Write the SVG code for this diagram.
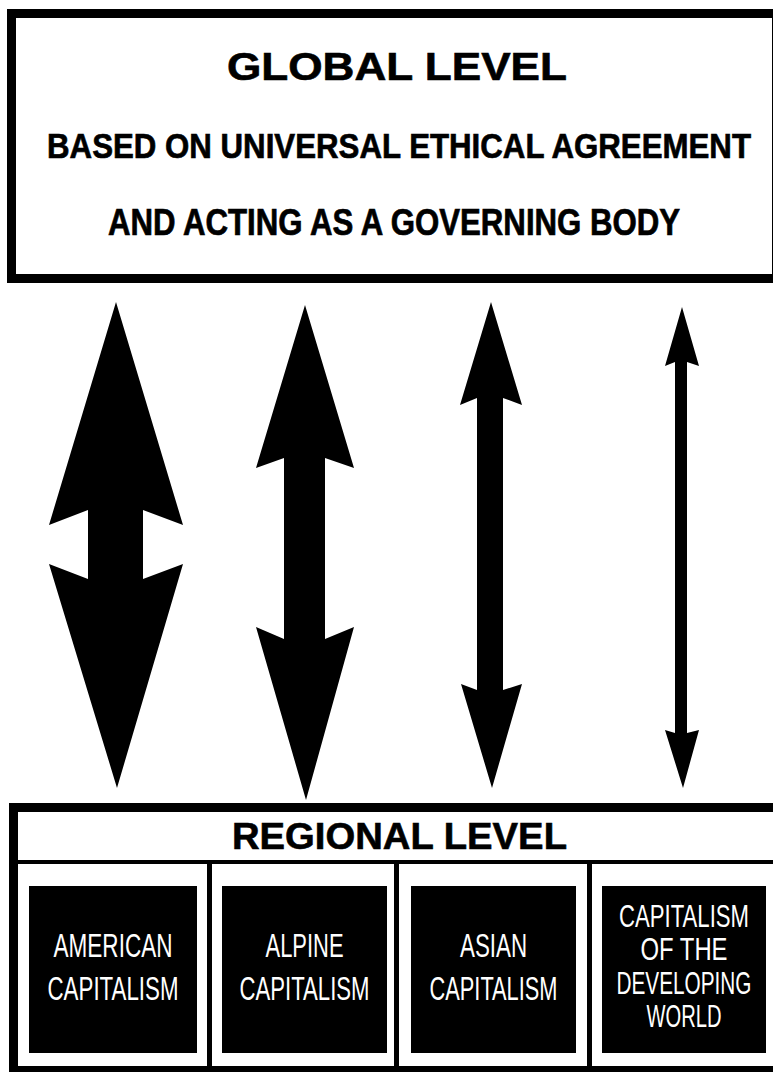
<svg xmlns="http://www.w3.org/2000/svg" width="773" height="1072" viewBox="0 0 773 1072">
<style>
.frame{fill:#fff;stroke:#000;stroke-width:9}
.bar{fill:#000}
.blk{fill:#000}
.hd{font-family:"Liberation Sans",Arial,sans-serif;font-weight:bold;fill:#000;stroke:#000;stroke-width:0.6;text-anchor:middle}
.wt{font-family:"Liberation Sans",Arial,sans-serif;font-size:22px;fill:#fff;text-anchor:middle}
.wt4{font-family:"Liberation Sans",Arial,sans-serif;font-size:21px;fill:#fff;text-anchor:middle}
.arrow{fill:#000}
</style>
<rect x="0" y="0" width="773" height="1072" fill="#fff"/>
<g id="global">
<rect class="frame" x="11.5" y="13.5" width="765" height="265"/>
<text class="hd" x="397" y="80" font-size="38" textLength="340" lengthAdjust="spacingAndGlyphs">GLOBAL LEVEL</text>
<text class="hd" transform="translate(399,158) scale(1,1.13)" x="0" y="0" font-size="31" textLength="704" lengthAdjust="spacingAndGlyphs">BASED ON UNIVERSAL ETHICAL AGREEMENT</text>
<text class="hd" transform="translate(394,235) scale(1,1.18)" x="0" y="0" font-size="31" textLength="572" lengthAdjust="spacingAndGlyphs">AND ACTING AS A GOVERNING BODY</text>
</g>
<g id="regional">
<rect class="frame" x="13.5" y="807.5" width="800" height="263"/>
<rect class="bar" x="18" y="860" width="760" height="4"/>
<text class="hd" x="399.5" y="849" font-size="37" textLength="335" lengthAdjust="spacingAndGlyphs">REGIONAL LEVEL</text>
<rect class="bar" x="207" y="864" width="5" height="204"/>
<rect class="bar" x="394" y="864" width="5" height="204"/>
<rect class="bar" x="587" y="864" width="5" height="204"/>
</g>
<g id="american">
<rect class="blk" x="29" y="886" width="168" height="167"/>
<text class="wt" transform="translate(113,957) scale(1,1.55)" textLength="119" lengthAdjust="spacingAndGlyphs">AMERICAN</text>
<text class="wt" transform="translate(113,1000) scale(1,1.55)" textLength="131" lengthAdjust="spacingAndGlyphs">CAPITALISM</text>
</g>
<g id="alpine">
<rect class="blk" x="222" y="886" width="165" height="167"/>
<text class="wt" transform="translate(304.5,957) scale(1,1.55)" textLength="78" lengthAdjust="spacingAndGlyphs">ALPINE</text>
<text class="wt" transform="translate(304.5,1000) scale(1,1.55)" textLength="130" lengthAdjust="spacingAndGlyphs">CAPITALISM</text>
</g>
<g id="asian">
<rect class="blk" x="411" y="886" width="165" height="167"/>
<text class="wt" transform="translate(493.5,957) scale(1,1.55)" textLength="67" lengthAdjust="spacingAndGlyphs">ASIAN</text>
<text class="wt" transform="translate(493.5,1000) scale(1,1.55)" textLength="128" lengthAdjust="spacingAndGlyphs">CAPITALISM</text>
</g>
<g id="developing">
<rect class="blk" x="602" y="886" width="164" height="167"/>
<text class="wt4" transform="translate(684,927) scale(1,1.5)" textLength="130" lengthAdjust="spacingAndGlyphs">CAPITALISM</text>
<text class="wt4" transform="translate(684,960) scale(1,1.5)" textLength="87" lengthAdjust="spacingAndGlyphs">OF THE</text>
<text class="wt4" transform="translate(684,994) scale(1,1.5)" textLength="135" lengthAdjust="spacingAndGlyphs">DEVELOPING</text>
<text class="wt4" transform="translate(684,1027) scale(1,1.5)" textLength="75" lengthAdjust="spacingAndGlyphs">WORLD</text>
</g>
<g id="connectors">
<polygon class="arrow" points="116,302 183,525 143,510 143,579 183,564 117,788 49,564 88,579 88,510 49,525"/>
<polygon class="arrow" points="305,305 354,468 325,458 325,639 354,627 306,800 256,627 284,639 284,458 256,468"/>
<polygon class="arrow" points="491,302 522,405 503,398 503,690 522,684 492,788 461,684 477,690 477,398 460,405"/>
<polygon class="arrow" points="682,307 699,366 687,362 687,733 699,730 683,788 665,730 675,733 675,362 665,366"/>
</g>
</svg>
